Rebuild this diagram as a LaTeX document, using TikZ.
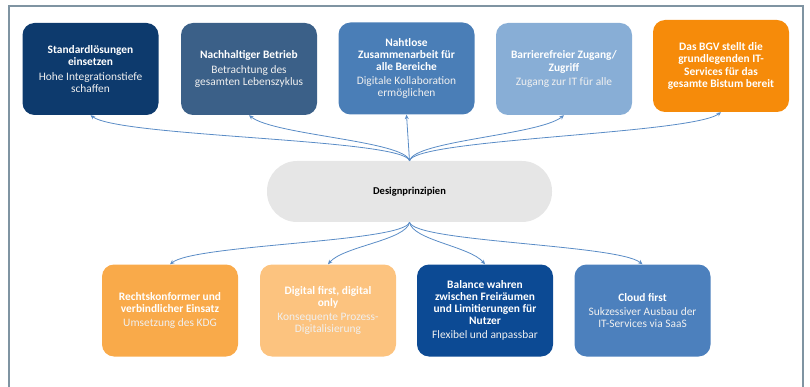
\documentclass[tikz,border=0pt]{standalone}
\usepackage{fontspec}
\setmainfont{Carlito}
\usetikzlibrary{arrows.meta}
\definecolor{framegray}{HTML}{7F94A2}
\definecolor{linkblue}{HTML}{5A8CC6}
\definecolor{navy}{HTML}{0D3A6D}
\definecolor{slate}{HTML}{3B6088}
\definecolor{midblue}{HTML}{4A7EB7}
\definecolor{paleblue}{HTML}{88AED6}
\definecolor{deeporange}{HTML}{F68B0A}
\definecolor{lightorange}{HTML}{F9AA4A}
\definecolor{paleorange}{HTML}{FCC37F}
\definecolor{royal}{HTML}{0C4A94}
\definecolor{cloudblue}{HTML}{4C80BD}
\definecolor{stadium}{HTML}{E6E6E6}
\colorlet{subtext}{white!88!gray}

\begin{document}
\begin{tikzpicture}[x=1pt,y=1pt]
\tikzstyle{every node}+=[inner sep=0pt]
\tikzstyle{box}=[rounded corners=12pt, minimum width=136pt, minimum height=92pt, align=center, text=white, font=\fontsize{11.4}{12.2}\selectfont]
\tikzstyle{link}=[draw=linkblue, line width=0.8pt, -{Stealth[length=4.5pt,width=4pt]}]
\useasboundingbox (0,0) rectangle (810,-387);
\draw [framegray, line width=2.2pt] (9,-400) -- (9,-6) -- (803,-6) -- (803,-400);
% obere Reihe
\node [box, fill=navy] (s1) at (90.5,-69) {\textbf{Standardlösungen}\\\textbf{einsetzen}\\[2pt]\textcolor{subtext}{Hohe Integrationstiefe}\\\textcolor{subtext}{schaffen}};
\node [box, fill=slate] (s2) at (249,-69) {\textbf{Nachhaltiger Betrieb}\\[2pt]\textcolor{subtext}{Betrachtung des}\\\textcolor{subtext}{gesamten Lebenszyklus}};
\node [box, fill=midblue] (s3) at (406.5,-68.5) {\textbf{Nahtlose}\\\textbf{Zusammenarbeit für}\\\textbf{alle Bereiche}\\[2pt]\textcolor{subtext}{Digitale Kollaboration}\\\textcolor{subtext}{ermöglichen}};
\node [box, fill=paleblue] (s4) at (564,-69) {\textbf{Barrierefreier Zugang/}\\\textbf{Zugriff}\\[2pt]\textcolor{subtext}{Zugang zur IT für alle}};
\node [box, fill=deeporange] (s5) at (721,-66) {\textbf{Das BGV stellt die}\\\textbf{grundlegenden IT-}\\\textbf{Services für das}\\\textbf{gesamte Bistum bereit}};
% Mitte
\node [fill=stadium, rounded corners=30pt, minimum width=285pt, minimum height=61pt, font=\fontsize{10.5}{12}\selectfont\bfseries] (des) at (409.5,-191.5) {Designprinzipien};
% untere Reihe
\node [box, fill=lightorange] (u1) at (170,-310.5) {\textbf{Rechtskonformer und}\\\textbf{verbindlicher Einsatz}\\[2pt]\textcolor{subtext}{Umsetzung des KDG}};
\node [box, fill=paleorange] (u2) at (328,-310.5) {\textbf{Digital first, digital}\\\textbf{only}\\[2pt]\textcolor{subtext}{Konsequente Prozess-}\\\textcolor{subtext}{Digitalisierung}};
\node [box, fill=royal] (u3) at (485,-310.5) {\textbf{Balance wahren}\\\textbf{zwischen Freiräumen}\\\textbf{und Limitierungen für}\\\textbf{Nutzer}\\[2pt]\textcolor{subtext}{Flexibel und anpassbar}};
\node [box, fill=cloudblue] (u4) at (642.5,-310.5) {\textbf{Cloud first}\\[2pt]\textcolor{subtext}{Sukzessiver Ausbau der}\\\textcolor{subtext}{IT-Services via SaaS}};
% Verbindungen
\draw [link] (des.north) .. controls +(-5,22) and +(30,-22) .. (s1.south);
\draw [link] (des.north) .. controls +(-4,20) and +(25,-20) .. (s2.south);
\draw [link] (des.north) -- (s3.south);
\draw [link] (des.north) .. controls +(4,20) and +(-25,-20) .. (s4.south);
\draw [link] (des.north) .. controls +(5,22) and +(-30,-22) .. (s5.south);
\draw [link] (des.south) .. controls +(-5,-20) and +(25,20) .. (u1.north);
\draw [link] (des.south) .. controls +(-3,-18) and +(15,18) .. (u2.north);
\draw [link] (des.south) .. controls +(3,-18) and +(-15,18) .. (u3.north);
\draw [link] (des.south) .. controls +(5,-20) and +(-25,20) .. (u4.north);
\end{tikzpicture}
\end{document}
